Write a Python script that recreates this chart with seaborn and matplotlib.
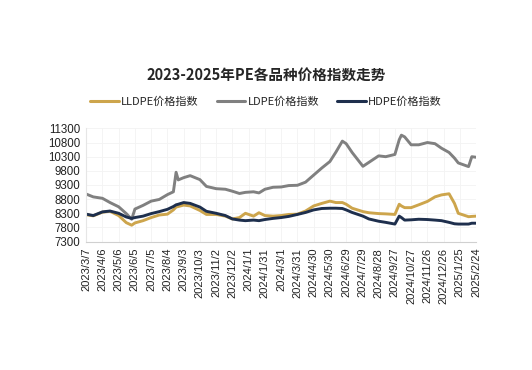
import matplotlib
matplotlib.use('Agg')

import seaborn as sns
import pandas as pd
import matplotlib.pyplot as plt

dates = [
    "2023-03-07", "2023-03-20", "2023-04-06", "2023-04-20", "2023-05-06", "2023-05-20",
    "2023-05-30", "2023-06-05", "2023-06-20", "2023-07-05", "2023-07-20", "2023-08-04",
    "2023-08-15", "2023-08-20", "2023-08-24", "2023-09-03", "2023-09-15", "2023-10-03",
    "2023-10-15", "2023-11-02", "2023-11-19", "2023-12-02", "2023-12-15", "2023-12-26",
    "2024-01-10", "2024-01-20", "2024-01-31", "2024-02-15", "2024-03-01", "2024-03-15",
    "2024-03-31", "2024-04-15", "2024-04-30", "2024-05-15", "2024-05-30", "2024-06-10",
    "2024-06-22", "2024-06-29", "2024-07-10", "2024-07-30", "2024-08-10", "2024-08-28",
    "2024-09-10", "2024-09-27", "2024-10-05", "2024-10-09", "2024-10-15", "2024-10-27",
    "2024-11-10", "2024-11-26", "2024-12-10", "2024-12-22", "2025-01-05", "2025-01-15",
    "2025-01-22", "2025-02-10", "2025-02-16", "2025-02-24",
]

lldpe = [
    8250, 8210, 8340, 8370, 8220, 7970, 7880, 7960, 8040, 8150, 8240, 8270,
    8420, 8520, 8540, 8590, 8560, 8400, 8260, 8260, 8200, 8100, 8150, 8300,
    8200, 8320, 8220, 8200, 8220, 8260, 8270, 8380, 8560, 8650, 8730, 8680,
    8680, 8620, 8480, 8360, 8320, 8290, 8280, 8260, 8620, 8560, 8500, 8500,
    8600, 8720, 8880, 8950, 8990, 8650, 8300, 8180, 8190, 8200,
]

ldpe = [
    8980, 8880, 8830, 8680, 8530, 8290, 8090, 8450, 8580, 8730, 8790, 8960,
    9060, 9750, 9480, 9560, 9630, 9490, 9250, 9170, 9150, 9080, 9000, 9040,
    9060, 9020, 9150, 9220, 9230, 9280, 9290, 9400, 9650, 9900, 10130, 10460,
    10850, 10760, 10450, 9960, 10100, 10330, 10300, 10380, 10900, 11060, 11000, 10720,
    10720, 10800, 10760, 10600, 10450, 10250, 10080, 9950, 10300, 10280,
]

hdpe = [
    8270, 8220, 8350, 8380, 8300, 8170, 8120, 8150, 8200, 8290, 8360, 8440,
    8540, 8600, 8620, 8680, 8650, 8520, 8370, 8300, 8220, 8100, 8060, 8040,
    8060, 8040, 8080, 8120, 8150, 8190, 8260, 8330, 8420, 8470, 8480, 8480,
    8470, 8420, 8330, 8200, 8100, 8020, 7980, 7920, 8200, 8150, 8060, 8070,
    8090, 8080, 8060, 8040, 7980, 7930, 7920, 7920, 7950, 7950,
]

series_names = ["LLDPE价格指数", "LDPE价格指数", "HDPE价格指数"]
colors = ["#CDA54C", "#808080", "#1E2F4D"]
title = "2023-2025年PE各品种价格指数走势"

df = pd.DataFrame({"date": pd.to_datetime(dates),
                   series_names[0]: lldpe,
                   series_names[1]: ldpe,
                   series_names[2]: hdpe})
long_df = df.melt(id_vars="date", var_name="series", value_name="value")

sns.set_style("white")
plt.rcParams['font.family'] = ['Noto Sans CJK SC', 'DejaVu Sans']

fig = plt.figure(figsize=(5.32, 3.70), dpi=100)
ax = fig.add_axes([0.162, 0.347, 0.733, 0.306])

sns.lineplot(data=long_df, x="date", y="value", hue="series", hue_order=series_names,
             palette=colors, linewidth=2.1, ax=ax, legend=False)

start = pd.Timestamp("2023-03-07")
end = pd.Timestamp("2025-02-24")
tick_dates = pd.date_range(start, end, freq="30D")
ax.set_xlim(start, end)
ax.set_xticks(tick_dates)
ax.set_xticklabels([f"{d.year}/{d.month}/{d.day}" for d in tick_dates],
                   rotation=90, fontsize=8, family="Liberation Sans", color="#222222")
ax.set_ylim(7300, 11300)
ax.set_yticks(range(7300, 11301, 500))
ax.set_yticklabels([str(v) for v in range(7300, 11301, 500)],
                   fontsize=8.3, family="Liberation Sans", color="#222222")
ax.set_xlabel("")
ax.set_ylabel("")

ax.grid(True, color="#F3F3F3", linewidth=0.6)
for s in ["top", "right"]:
    ax.spines[s].set_visible(False)
ax.spines["left"].set_color("#E6E6E6")
ax.spines["bottom"].set_color("#D0D0D0")
ax.tick_params(axis="x", direction="inout", length=5, color="#D0D0D0", pad=2)
ax.tick_params(axis="y", length=0, pad=4)

fig.text(0.50, 0.797, title, ha="center", va="center", fontsize=10.5, fontweight="bold")

handles = [plt.Line2D([], [], color=c, linewidth=2.2) for c in colors]
fig.legend(handles, series_names, loc="center", bbox_to_anchor=(0.50, 0.724), ncol=3,
           frameon=False, fontsize=8, handlelength=2.6, handletextpad=0.2, columnspacing=1.6)

fig.savefig("out.png", dpi=100)
plt.close(fig)
